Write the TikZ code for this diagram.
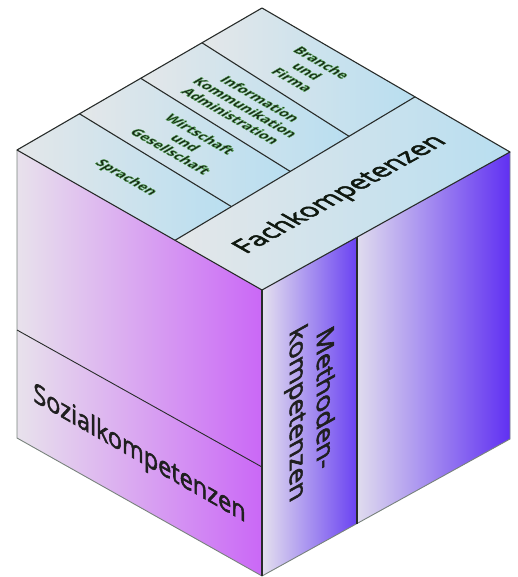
\documentclass[tikz,border=0pt]{standalone}
\usepackage{fontspec}
\setmainfont{Open Sans}
\newfontfamily\heavyfont[FakeBold=2.2]{Open Sans}
\usetikzlibrary{calc}

% face colours
\definecolor{topA}{RGB}{228,231,233}
\definecolor{topB}{RGB}{184,222,240}
\definecolor{leftA}{RGB}{232,226,236}
\definecolor{leftB}{RGB}{202,104,246}
\definecolor{methA}{RGB}{228,224,238}
\definecolor{methB}{RGB}{106,66,242}
\definecolor{rightA}{RGB}{224,220,238}
\definecolor{rightB}{RGB}{96,48,242}
\definecolor{edgec}{RGB}{40,44,42}
\definecolor{rimc}{RGB}{120,130,124}
\definecolor{inkc}{RGB}{22,34,22}

% dark lettering with a thin green outline (fill + stroke text mode)
\newcommand\glowtxt[1]{%
  \special{pdf:literal direct 2 Tr 0.45 w 0.36 0.68 0.36 RG}#1%
  \special{pdf:literal direct 0 Tr}}

\tikzset{
  edge/.style={draw=edgec, line width=1.1pt, line join=round},
  rim/.style={draw=rimc, line width=0.9pt},
  topface/.style={left color=topA, right color=topB},
  % text lying in the top face, reading along the front-left edge
  toptext/.style={cm={0.868,-0.496,0.865,0.502,(0,0)}, align=center,
    font=\fontsize{14}{17}\selectfont\bfseries, text=inkc, inner sep=0pt},
  % text lying in the top face, reading along the front-right edge
  fachtext/.style={cm={0.874,0.486,-0.868,0.496,(0,0)},
    font=\heavyfont\fontsize{27}{31}\selectfont, text=inkc!70!black, inner sep=0pt},
  lefttext/.style={cm={0.868,-0.496,0,1,(0,0)},
    font=\heavyfont\fontsize{27}{31}\selectfont, text=black!88, inner sep=0pt},
  righttext/.style={cm={0,-1,0.874,0.486,(0,0)}, align=center,
    font=\heavyfont\fontsize{27}{31}\selectfont, text=black!88, inner sep=0pt}
}

\begin{document}
\begin{tikzpicture}[x=1pt,y=-1pt]
\useasboundingbox (0,0) rectangle (517,577);

% cube corners
\coordinate (T) at (262,8);
\coordinate (L) at (17,150);
\coordinate (F) at (262,290);
\coordinate (R) at (510,152);
\coordinate (LB) at (17,438);
\coordinate (FB) at (262,576);
\coordinate (RB) at (510,439);

% band of the top face along the front-right edge
\coordinate (A) at ($(L)!0.645!(F)$);
\coordinate (B) at ($(T)!0.617!(R)$);
% strip dividers on the top face
\coordinate (D1a) at ($(L)!0.255!(T)$);
\coordinate (D1b) at ($(A)!0.235!(B)$);
\coordinate (D2a) at ($(L)!0.505!(T)$);
\coordinate (D2b) at ($(A)!0.48!(B)$);
\coordinate (D3a) at ($(L)!0.755!(T)$);
\coordinate (D3b) at ($(A)!0.725!(B)$);
% split of the left face
\coordinate (SL) at (17,330);
\coordinate (SF) at (262,467);
% split of the right face
\coordinate (MT) at ($(F)!0.383!(R)$);
\coordinate (MB) at ($(FB)!0.383!(RB)$);

% left face
\shade[left color=leftA, right color=leftB] (L) -- (F) -- (SF) -- (SL) -- cycle;
\shade[left color=leftA, right color=leftB] (SL) -- (SF) -- (FB) -- (LB) -- cycle;
% right face
\shade[left color=methA, right color=methB] (F) -- (MT) -- (MB) -- (FB) -- cycle;
\shade[left color=rightA, right color=rightB] (MT) -- (R) -- (RB) -- (MB) -- cycle;
% top face
\shade[topface] (L) -- (D1a) -- (D1b) -- (A) -- cycle;
\shade[topface] (D1a) -- (D2a) -- (D2b) -- (D1b) -- cycle;
\shade[topface] (D2a) -- (D3a) -- (D3b) -- (D2b) -- cycle;
\shade[topface] (D3a) -- (T) -- (B) -- (D3b) -- cycle;
\shade[topface] (A) -- (B) -- (R) -- (F) -- cycle;

% outer rims
\draw[rim] (L) -- (LB) -- (FB) -- (RB) -- (R);
% edges and dividers
\draw[edge] (T) -- (R) -- (F) -- (L) -- cycle;
\draw[edge] (A) -- (B);
\draw[edge] (D1a) -- (D1b);
\draw[edge] (D2a) -- (D2b);
\draw[edge] (D3a) -- (D3b);
\draw[edge] (F) -- (FB);
\draw[edge] (MT) -- (MB);
\draw[edge, line width=0.9pt] (SL) -- (SF);

% labels on the top face
\node[toptext] (sprachen) at ($0.25*(L)+0.25*(D1a)+0.25*(D1b)+0.25*(A)$)
  {\glowtxt{Sprachen}};
\node[toptext] (wirtschaft) at ($0.25*(D1a)+0.25*(D2a)+0.25*(D2b)+0.25*(D1b)$)
  {\glowtxt{Wirtschaft}\\\glowtxt{und}\\\glowtxt{Gesellschaft}};
\node[toptext] (info) at ($0.25*(D2a)+0.25*(D3a)+0.25*(D3b)+0.25*(D2b)$)
  {\glowtxt{Information}\\\glowtxt{Kommunikation}\\\glowtxt{Administration}};
\node[toptext] (branche) at ($0.25*(D3a)+0.25*(T)+0.25*(B)+0.25*(D3b)$)
  {\glowtxt{Branche}\\\glowtxt{und}\\\glowtxt{Firma}};
\node[fachtext] (fach) at ($0.25*(A)+0.25*(B)+0.25*(R)+0.25*(F)$)
  {Fachkompetenzen};

% labels on the side faces
\node[lefttext] (sozial) at ($0.25*(SL)+0.25*(SF)+0.25*(FB)+0.25*(LB)+(0,2)$)
  {Sozialkompetenzen};
\node[righttext] (methoden) at ($0.25*(F)+0.25*(MT)+0.25*(MB)+0.25*(FB)$)
  {Methoden-\\kompetenzen};
\end{tikzpicture}
\end{document}
